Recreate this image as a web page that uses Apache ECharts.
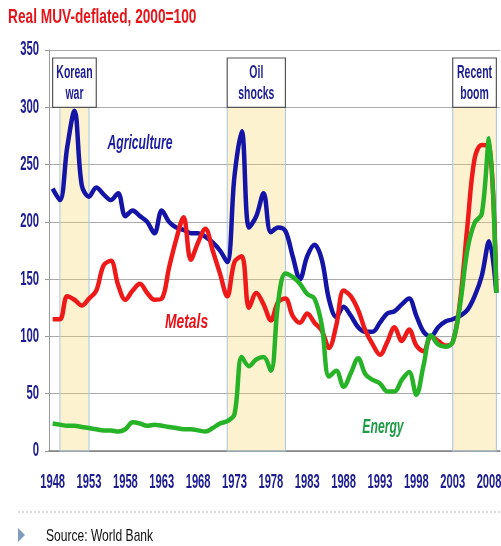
<!DOCTYPE html>
<html>
<head>
<meta charset="utf-8">
<title>Real commodity prices</title>
<script src="https://cdn.jsdelivr.net/npm/echarts@6/dist/echarts.min.js"></script>
<style>
    html, body { margin: 0; padding: 0; background: #fff; }
    #main { width: 501px; height: 546px; }
</style>
</head>
<body>
<div id="main"></div>
<script>
    const years = [
        '1948', '1949', '1950', '1951', '1952', '1953', '1954', '1955', '1956', '1957',
        '1958', '1959', '1960', '1961', '1962', '1963', '1964', '1965', '1966', '1967',
        '1968', '1969', '1970', '1971', '1972', '1973', '1974', '1975', '1976', '1977',
        '1978', '1979', '1980', '1981', '1982', '1983', '1984', '1985', '1986', '1987',
        '1988', '1989', '1990', '1991', '1992', '1993', '1994', '1995', '1996', '1997',
        '1998', '1999', '2000', '2001', '2002', '2003', '2004', '2005', '2006', '2007',
        '2008', '2009'
    ];
    const yearLabels = ['1948', '1953', '1958', '1963', '1968', '1973', '1978',
        '1983', '1988', '1993', '1998', '2003', '2008'];
    const valueLabels = [0, 50, 100, 150, 200, 250, 300, 350];

    const agriculture = [
        229, 219, 265, 297, 232, 222, 230, 224, 219, 225,
        205, 210, 205, 200, 190, 210, 200, 195, 193, 190,
        190, 187, 182, 175, 165, 240, 279, 195, 205, 225,
        191, 195, 192, 170, 150, 170, 180, 167, 132, 117,
        126, 118, 108, 104, 104, 112, 120, 122, 128, 133,
        118, 104, 100, 108, 113, 115, 118, 123, 135, 153,
        183, 138
    ];

    const metals = [
        115, 115, 135, 132, 127, 133, 140, 162, 166, 145,
        132, 140, 146, 138, 132, 133, 160, 185, 204, 167,
        182, 194, 175, 155, 135, 165, 170, 125, 138, 128,
        114, 130, 133, 118, 112, 120, 112, 105, 90, 110,
        140, 135, 123, 105, 93, 84, 95, 108, 96, 106,
        92, 87, 100, 96, 92, 95, 130, 195, 255, 267,
        266, 140
    ];

    const energy = [
        24, 23, 22, 22, 21, 20, 19, 18, 18, 17,
        19, 25, 24, 22, 23, 22, 21, 20, 19, 19,
        18, 17, 20, 24, 26, 32, 82, 74, 80, 82,
        70, 130, 155, 152, 146, 137, 133, 110, 65, 70,
        56, 68, 81, 67, 62, 59, 52, 52, 62, 69,
        49, 75, 101, 93, 91, 95, 127, 175, 199, 207,
        273, 138
    ];

    // episodes: shaded span and the caption box above it
    const episodes = [
        { name: 'Korean\nwar', from: '1949', to: '1953', boxFrom: '1948', boxTo: '1954' },
        { name: 'Oil\nshocks', from: '1972', to: '1980', boxFrom: '1972', boxTo: '1980' },
        { name: 'Recent\nboom', from: '2003', to: '2009', boxFrom: '2003', boxTo: '2009' }
    ];
    const shadeTop = 300;
    const boxTop = 343;

    // in-chart series captions: [category, value]
    const captions = {
        Agriculture: ['1960', 269],
        Metals: ['1966', 112],
        Energy: ['1993', 21]
    };
    const captionLook = {
        Agriculture: { color: '#1c1ca0', squeeze: 0.58, dx: 0 },
        Metals: { color: '#e8121a', squeeze: 0.66, dx: 3 },
        Energy: { color: '#1f9a45', squeeze: 0.58, dx: 3 }
    };

    const FONT = "'Liberation Sans', Arial, sans-serif";
    const NAVY = '#1c1c8e';

    const areas = [];
    episodes.forEach(e => {
        areas.push([
            {
                xAxis: e.from, yAxis: 0,
                itemStyle: { color: 'rgba(245,215,110,0.32)', borderColor: '#a9c6e2', borderWidth: 1 }
            },
            { xAxis: e.to, yAxis: shadeTop }
        ]);
        areas.push([
            {
                xAxis: e.boxFrom, yAxis: shadeTop,
                itemStyle: { color: '#fff', borderColor: '#555', borderWidth: 1.2 }
            },
            { xAxis: e.boxTo, yAxis: boxTop }
        ]);
    });

    function lineSeries(name, data, color) {
        return {
            name: name,
            type: 'line',
            data: data,
            smooth: 0.35,
            symbol: 'none',
            z: 2,
            lineStyle: { color: color, width: 4.5 }
        };
    }

    const chart = echarts.init(document.getElementById('main'));
    chart.setOption({
        animation: false,
        grid: { left: 49, right: 1, top: 50, bottom: 95, outerBoundsMode: 'none' },
        xAxis: {
            type: 'category',
            data: years,
            boundaryGap: true,
            axisLine: { lineStyle: { color: '#808080', width: 1.5 } },
            axisTick: { interval: 0, length: 5, lineStyle: { color: '#999' } },
            axisLabel: { show: false },
            splitLine: { show: false }
        },
        yAxis: {
            type: 'value',
            min: 0, max: 350, interval: 50,
            axisLine: { show: true, lineStyle: { color: '#999' } },
            axisTick: { show: true, length: 4, lineStyle: { color: '#999' } },
            axisLabel: { show: false },
            splitLine: { lineStyle: { color: '#aaa', width: 1.2 } }
        },
        series: [
            lineSeries('Agriculture', agriculture, '#1414a6'),
            lineSeries('Metals', metals, '#ee1a1a'),
            lineSeries('Energy', energy, '#27b327'),
            {
                name: 'episodes',
                type: 'line',
                data: [],
                z: 5,
                silent: true,
                markArea: { silent: true, label: { show: false }, data: areas }
            }
        ]
    });

    // condensed text (the original uses a squeezed narrow face)
    function squeezed(text, x, y, size, color, sx, extra) {
        return {
            type: 'text', x: x, y: y, scaleX: sx, z: 50, silent: true,
            style: Object.assign({
                text: text, fill: color,
                fontSize: size, fontFamily: FONT, fontWeight: 'bold',
                align: 'center', textAlign: 'center',
                verticalAlign: 'middle', textVerticalAlign: 'middle'
            }, extra || {})
        };
    }
    const px = (cat, val) => chart.convertToPixel({ gridIndex: 0 }, [years.indexOf(cat), val]);

    const texts = [];
    const axisY = px(years[0], 0)[1];
    const axisX = px(years[0], 0)[0] - 3.6;

    yearLabels.forEach(y => {
        texts.push(squeezed(y, px(y, 0)[0], axisY + 31, 20, NAVY, 0.56));
    });
    valueLabels.forEach(v => {
        texts.push(squeezed(String(v), axisX - 10, px(years[0], v)[1], 19.5, NAVY, 0.58,
            { align: 'right', textAlign: 'right' }));
    });
    episodes.forEach(e => {
        const a = px(e.boxFrom, boxTop);
        const b = px(e.boxTo, shadeTop);
        texts.push(squeezed(e.name, (a[0] + b[0]) / 2, (a[1] + b[1]) / 2 + 1.5, 17.5, NAVY, 0.6,
            { lineHeight: 21 }));
    });
    Object.keys(captions).forEach(name => {
        const p = px(captions[name][0], captions[name][1]);
        const look = captionLook[name];
        texts.push(squeezed(name, p[0] + look.dx, p[1], 21, look.color, look.squeeze,
            { fontStyle: 'italic' }));
    });

    texts.push(squeezed('Real MUV-deflated, 2000=100', 8, 17, 20, '#e3151b', 0.685,
        { align: 'left', textAlign: 'left' }));
    texts.push(squeezed('Source: World Bank', 46, 536, 17, '#111', 0.71,
        { align: 'left', textAlign: 'left', fontWeight: 'normal' }));

    chart.setOption({
        graphic: [
            {
                type: 'line',
                shape: { x1: 18, y1: 512, x2: 501, y2: 512 },
                style: { stroke: '#bbb', lineWidth: 1, lineDash: [2, 2] }
            },
            {
                type: 'polygon',
                shape: { points: [[18, 528], [25, 535], [18, 542]] },
                style: { fill: '#7f9cbf' }
            }
        ].concat(texts)
    });
</script>
</body>
</html>
